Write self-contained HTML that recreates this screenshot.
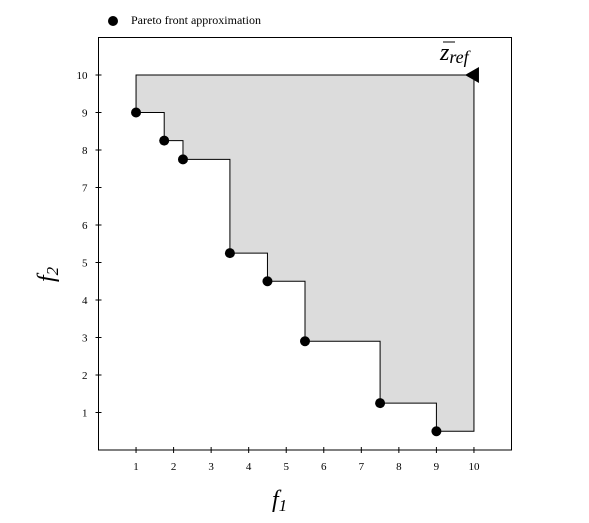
<!DOCTYPE html>
<html><head><meta charset="utf-8"><style>
body{margin:0;background:#fff;}
svg{display:block;font-family:"Liberation Serif",serif;}
</style></head><body>
<svg id="c" width="589" height="523"></svg>
<script>
const xTicks=[1,2,3,4,5,6,7,8,9,10];
const yTicks=[1,2,3,4,5,6,7,8,9,10];
const frontX=[1,1.75,2.25,3.5,4.5,5.5,7.5,9];
const frontY=[9,8.25,7.75,5.25,4.5,2.9,1.25,0.5];
const refX=10, refY=10;
const L=98.5,R=511.5,T=37.5,B=450;
const sx=v=>L+v*(R-L)/11, sy=v=>B-v*(B-T)/11;
const svg=document.getElementById('c');
const NS='http://www.w3.org/2000/svg';
function mk(t,a,p){const e=document.createElementNS(NS,t);for(const k in a)e.setAttribute(k,a[k]);(p||svg).appendChild(e);return e;}
// dominated region
let d=`M${sx(frontX[0])},${sy(refY)} L${sx(frontX[0])},${sy(frontY[0])}`;
for(let i=1;i<frontX.length;i++){d+=` L${sx(frontX[i])},${sy(frontY[i-1])} L${sx(frontX[i])},${sy(frontY[i])}`;}
d+=` L${sx(refX)},${sy(frontY[frontY.length-1])} L${sx(refX)},${sy(refY)} Z`;
const reg=mk('path',{d:d,fill:'#dcdcdc',stroke:'#000','stroke-width':1});


const fr=mk('rect',{x:L,y:T,width:R-L,height:B-T,fill:'none',stroke:'#000','stroke-width':1});


xTicks.forEach(v=>{
  const l=mk('line',{x1:sx(v),x2:sx(v),y1:B-3,y2:B+3,stroke:'#000'});
  
  
  const t=mk('text',{x:sx(v),y:B+20,'text-anchor':'middle','font-size':11});
  t.textContent=v;
  
  
});
yTicks.forEach(v=>{
  const l=mk('line',{x1:L-3,x2:L+3,y1:sy(v),y2:sy(v),stroke:'#000'});
  
  
  const t=mk('text',{x:L-11,y:sy(v)+4,'text-anchor':'end','font-size':11});
  t.textContent=v;
  
  
});
frontX.forEach((v,i)=>{
  const c=mk('circle',{cx:sx(v),cy:sy(frontY[i]),r:5,fill:'#000'});
  
  
});
const rx=sx(refX),ry=sy(refY);
const tri=mk('polygon',{points:`${rx-9},${ry} ${rx+5},${ry-8} ${rx+5},${ry+8}`,fill:'#000'});


</script>
<svg style="position:absolute;left:0;top:0" width="589" height="523">
<text x="440" y="60" font-size="24" font-style="italic" font-family="Liberation Serif,serif">z<tspan font-size="18" dy="3">ref</tspan></text>
<line x1="443" y1="42" x2="455" y2="42" stroke="#000"/>
<text x="272" y="507" font-size="24" font-style="italic" font-family="Liberation Serif,serif">f<tspan font-size="17" dy="4">1</tspan></text>
<text transform="translate(54,282) rotate(-90)" font-size="24" font-style="italic" font-family="Liberation Serif,serif">f<tspan font-size="17" dy="4">2</tspan></text>
<g>
<circle cx="113" cy="21" r="5" fill="#000"/>
<text x="131" y="24" font-size="12" font-family="Liberation Serif,serif">Pareto front approximation</text>
</g>
</svg>
</body></html>
